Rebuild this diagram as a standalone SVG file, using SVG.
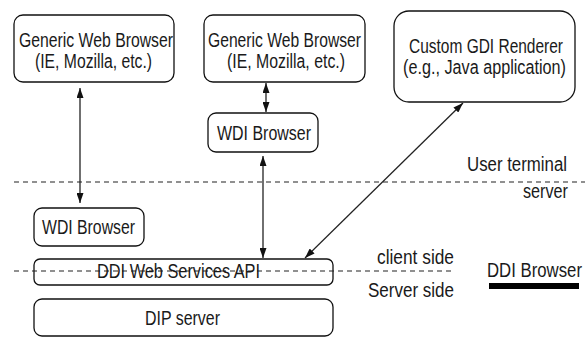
<svg xmlns="http://www.w3.org/2000/svg" width="585" height="337" viewBox="0 0 585 337">
<defs>
<style>
.box{fill:#fff;stroke:#111;stroke-width:1.3}
.t{font-family:"Liberation Sans",Arial,sans-serif;font-size:20px;fill:#1a1a1a}
.conn{stroke:#222;stroke-width:1.3;fill:none}
.dash{stroke:#222;stroke-width:1.2;stroke-dasharray:5 4;fill:none}
</style>
<marker id="ah" viewBox="0 0 10 7" refX="10" refY="3.5" markerWidth="10" markerHeight="7" markerUnits="userSpaceOnUse" orient="auto-start-reverse">
<path d="M0,0 L10,3.5 L0,7 Z" fill="#111"/>
</marker>
</defs>
<rect width="585" height="337" fill="#fff"/>
<g id="separators">
<line class="dash" x1="14" y1="182" x2="585" y2="182"/>
</g>
<g id="gwb1">
<rect class="box" x="14" y="15" width="160" height="67" rx="9"/>
<text class="t" x="19" y="47" textLength="154" lengthAdjust="spacingAndGlyphs">Generic Web Browser</text>
<text class="t" x="35" y="68" textLength="117" lengthAdjust="spacingAndGlyphs">(IE, Mozilla, etc.)</text>
</g>
<g id="gwb2">
<rect class="box" x="204" y="15" width="161" height="67" rx="9"/>
<text class="t" x="208" y="47" textLength="153" lengthAdjust="spacingAndGlyphs">Generic Web Browser</text>
<text class="t" x="227" y="68" textLength="118" lengthAdjust="spacingAndGlyphs">(IE, Mozilla, etc.)</text>
</g>
<g id="gdi">
<rect class="box" x="394" y="11" width="181" height="91" rx="15"/>
<text class="t" x="409" y="53" textLength="154" lengthAdjust="spacingAndGlyphs">Custom GDI Renderer</text>
<text class="t" x="403" y="74" textLength="163" lengthAdjust="spacingAndGlyphs">(e.g., Java application)</text>
</g>
<g id="wdi2">
<rect class="box" x="208" y="113" width="110" height="39" rx="8"/>
<text class="t" x="217" y="140" textLength="94" lengthAdjust="spacingAndGlyphs">WDI Browser</text>
</g>
<g id="wdi1">
<rect class="box" x="34" y="208" width="110" height="38" rx="8"/>
<text class="t" x="42" y="234" textLength="93" lengthAdjust="spacingAndGlyphs">WDI Browser</text>
</g>
<g id="ddiapi">
<rect class="box" x="34" y="259" width="299" height="26" rx="6"/>
<line class="dash" x1="14" y1="271" x2="455" y2="271"/>
<text class="t" x="97" y="278" textLength="163" lengthAdjust="spacingAndGlyphs">DDI Web Services API</text>
</g>
<g id="dip">
<rect class="box" x="34" y="299" width="299" height="37" rx="8"/>
<text class="t" x="145" y="325" textLength="75" lengthAdjust="spacingAndGlyphs">DIP server</text>
</g>
<g id="labels">
<text class="t" x="467" y="171" textLength="100" lengthAdjust="spacingAndGlyphs">User terminal</text>
<text class="t" x="523" y="198" textLength="45" lengthAdjust="spacingAndGlyphs">server</text>
<text class="t" x="377" y="264" textLength="77" lengthAdjust="spacingAndGlyphs">client side</text>
<text class="t" x="368" y="297" textLength="86" lengthAdjust="spacingAndGlyphs">Server side</text>
</g>
<g id="legend">
<text class="t" x="487" y="277" textLength="95" lengthAdjust="spacingAndGlyphs">DDI Browser</text>
<line x1="489" y1="286" x2="579" y2="286" stroke="#000" stroke-width="6"/>
</g>
<g id="connectors">
<line class="conn" x1="80" y1="88" x2="80" y2="203" marker-start="url(#ah)" marker-end="url(#ah)"/>
<line class="conn" x1="266" y1="83" x2="266" y2="112" marker-start="url(#ah)" marker-end="url(#ah)"/>
<line class="conn" x1="263" y1="156" x2="263" y2="258" marker-start="url(#ah)" marker-end="url(#ah)"/>
<line class="conn" x1="463" y1="103" x2="305" y2="258" marker-start="url(#ah)" marker-end="url(#ah)"/>
</g>
</svg>
